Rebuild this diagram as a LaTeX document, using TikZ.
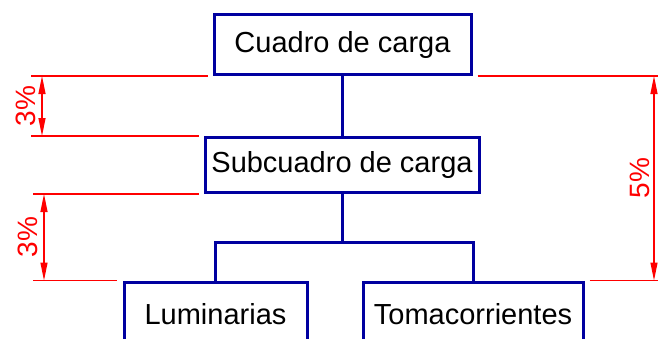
\documentclass[tikz,border=0pt]{standalone}
\usepackage{fontspec}
\setmainfont{Liberation Sans}
\usetikzlibrary{arrows.meta}
\definecolor{azul}{RGB}{0,0,160}
\definecolor{rojo}{RGB}{255,0,0}
\tikzset{
	caja/.style={draw=azul, line width=1.5pt, inner sep=0pt},
	enlace/.style={draw=azul, line width=1.5pt},
	cota/.style={draw=rojo, line width=0.6pt},
	flecha/.style={cota, {Triangle[length=9pt,width=3.5pt]}-{Triangle[length=9pt,width=3.5pt]}},
	porcentaje/.style={text=rojo, rotate=90, font=\fontsize{14}{16}\selectfont}
}
\begin{document}
\begin{tikzpicture}[x=0.5pt, y=-0.5pt, font=\fontsize{14.5}{17}\selectfont, line join=miter]
			\useasboundingbox (0,0) rectangle (659,338);
			\node[caja, minimum width=128.5pt, minimum height=30pt] (cuadro) at (342.5,44.5) {Cuadro de carga};
			\node[caja, minimum width=137pt, minimum height=27.5pt] (sub) at (342,165) {Subcuadro de carga};
			\node[caja, minimum width=91.5pt, minimum height=32pt] (lum) at (215.5,314) {Luminarias};
			\node[caja, minimum width=110pt, minimum height=32pt] (toma) at (473,314) {Tomacorrientes};
			\coordinate (ramal) at (342,242);
			\draw[enlace] (cuadro.south) -- (cuadro.south |- sub.north);
			\draw[enlace] (sub.south) -- (ramal);
			\draw[enlace] (lum.north) |- (ramal) -| (toma.north);
			\draw[cota] (31,0 |- cuadro.south west) -- ([xshift=-2.5pt]cuadro.south west);
			\draw[cota] (31,0 |- sub.north west) -- ([xshift=-2.5pt]sub.north west);
			\draw[cota] (33,0 |- sub.south west) -- ([xshift=-2.5pt]sub.south west);
			\draw[cota] (33,0 |- lum.north west) -- ([xshift=-3pt]lum.north west);
			\draw[cota] ([xshift=2.5pt]cuadro.south east) -- (658,0 |- cuadro.south east);
			\draw[cota] ([xshift=2.5pt]toma.north east) -- (658,0 |- toma.north east);
			\draw[flecha] (42,0 |- cuadro.south) -- node[xshift=-8pt, porcentaje]{3\%} (42,0 |- sub.north);
			\draw[flecha] (44,0 |- sub.south) -- node[xshift=-8pt, porcentaje]{3\%} (44,0 |- lum.north);
			\draw[flecha] (654,0 |- cuadro.south) -- node[xshift=-7pt, porcentaje]{5\%} (654,0 |- toma.north);
\end{tikzpicture}
\end{document}
